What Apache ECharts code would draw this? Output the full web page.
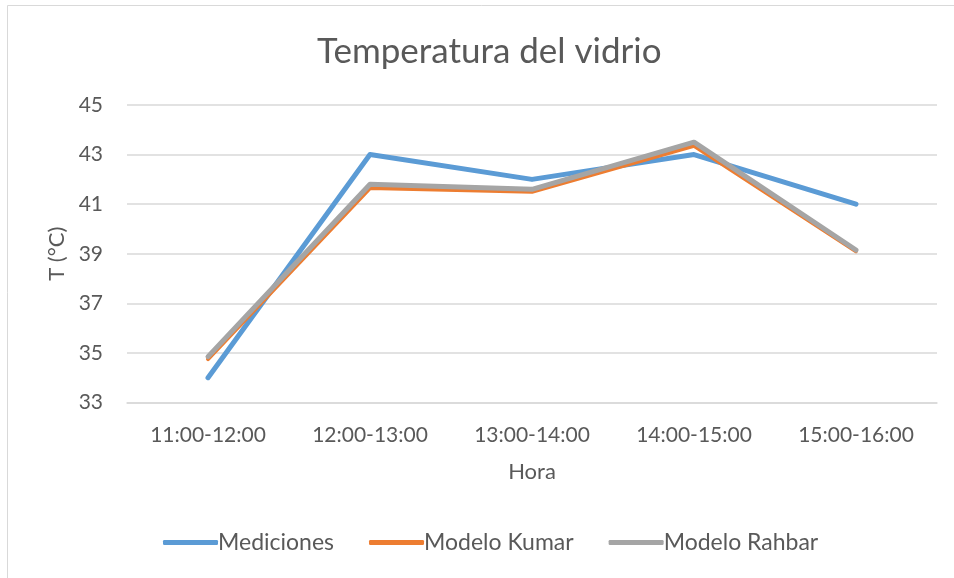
<!DOCTYPE html>
<html>
<head>
<meta charset="utf-8">
<script src="https://cdn.jsdelivr.net/npm/echarts@6/dist/echarts.min.js"></script>
<style>
html,body{margin:0;padding:0;background:#fff;}
#chart{width:954px;height:578px;}
</style>
</head>
<body>
<div id="chart"></div>
<script>
// Hourly glass temperature: measured values vs. two models
const horas = ['11:00-12:00', '12:00-13:00', '13:00-14:00', '14:00-15:00', '15:00-16:00'];
const mediciones = [34.0, 43.0, 42.0, 43.0, 41.0];
const modeloKumar = [34.75, 41.65, 41.5, 43.35, 39.1];
const modeloRahbar = [34.85, 41.8, 41.6, 43.5, 39.15];

const FONT = 'Lato, "Open Sans", sans-serif';
const TXT = '#595959';

const chart = echarts.init(document.getElementById('chart'), null, { renderer: 'canvas' });

function serie(name, data, color, width) {
  return {
    name: name,
    type: 'line',
    data: data,
    symbol: 'none',
    lineStyle: { color: color, width: width, cap: 'round', join: 'round' },
    itemStyle: { color: color },
    emphasis: { disabled: true }
  };
}

chart.setOption({
  animation: false,
  backgroundColor: '#fff',
  graphic: [{
    type: 'rect',
    shape: { x: 7.5, y: 5.5, width: 960, height: 600 },
    style: { fill: 'none', stroke: '#D9D9D9', lineWidth: 1 },
    silent: true, z: -1
  }],
  title: {
    text: 'Temperatura del vidrio',
    left: 312,
    top: 29,
    textStyle: { fontFamily: FONT, fontSize: 35, fontWeight: 'normal', color: TXT }
  },
  legend: {
    bottom: 19,
    left: 158,
    itemWidth: 55,
    itemHeight: 5,
    itemGap: 35,
    icon: 'roundRect',
    textStyle: { fontFamily: FONT, fontSize: 23, color: TXT, padding: [0, 0, 0, -5] },
    data: ['Mediciones', 'Modelo Kumar', 'Modelo Rahbar']
  },
  grid: { left: 127, right: 17, top: 105, bottom: 175.5, containLabel: false },
  xAxis: {
    type: 'category',
    data: horas,
    boundaryGap: true,
    name: 'Hora',
    nameLocation: 'middle',
    nameGap: 58,
    nameTextStyle: { fontFamily: FONT, fontSize: 22, color: TXT },
    axisLine: { show: true, lineStyle: { color: '#D9D9D9', width: 1.5 } },
    axisTick: { show: false },
    axisLabel: { fontFamily: FONT, fontSize: 21, color: TXT, margin: 22 }
  },
  yAxis: {
    type: 'value',
    min: 33,
    max: 45,
    interval: 2,
    name: 'T (°C)',
    nameLocation: 'middle',
    nameRotate: 90,
    nameGap: 52,
    nameTextStyle: { fontFamily: FONT, fontSize: 22, color: TXT },
    axisLine: { show: false },
    axisTick: { show: false },
    axisLabel: { fontFamily: FONT, fontSize: 21, color: TXT, margin: 24 },
    splitLine: { show: true, lineStyle: { color: '#D9D9D9', width: 1.5 } }
  },
  series: [
    serie('Mediciones', mediciones, '#5B9BD5', 5),
    serie('Modelo Kumar', modeloKumar, '#ED7D31', 4),
    serie('Modelo Rahbar', modeloRahbar, '#A5A5A5', 5)
  ]
});
</script>
</body>
</html>
